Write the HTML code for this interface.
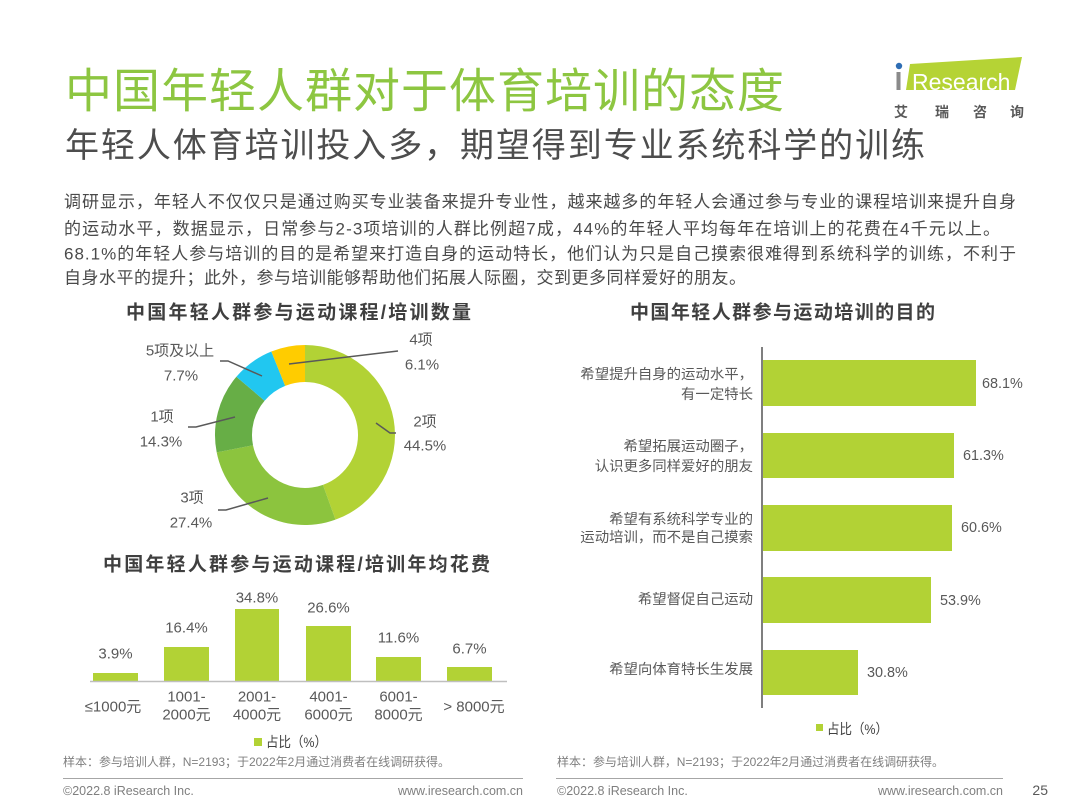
<!DOCTYPE html>
<html>
<head>
<meta charset="utf-8">
<style>
html,body{margin:0;padding:0;background:#fff;}
body{width:1080px;height:810px;overflow:hidden;position:relative;}
svg{position:absolute;left:0;top:0;}
text{font-family:"Liberation Sans","Noto Sans CJK SC",sans-serif;}
</style>
</head>
<body>
<svg width="1080" height="810" viewBox="0 0 1080 810" xmlns="http://www.w3.org/2000/svg">
  <!-- Titles -->
  <text x="65" y="91" font-size="47" fill="#8dc641" dominant-baseline="central" textLength="719" lengthAdjust="spacing">中国年轻人群对于体育培训的态度</text>
  <text x="65" y="146" font-size="34" fill="#4d4d4d" dominant-baseline="central" textLength="860" lengthAdjust="spacing">年轻人体育培训投入多，期望得到专业系统科学的训练</text>

  <!-- Logo -->
  <polygon points="910,64 1022,57 1015,90 906,90" fill="#b5d335"/>
  <circle cx="899" cy="66" r="3.2" fill="#2e6db4"/>
  <rect x="896.5" y="72" width="4" height="18" fill="#8a8a8a"/>
  <text x="912" y="82" font-size="23" fill="#ffffff" dominant-baseline="central">Research</text>
  <g font-size="14" font-weight="bold" fill="#595959" text-anchor="middle">
    <text x="901" y="112" dominant-baseline="central">艾</text>
    <text x="942" y="112" dominant-baseline="central">瑞</text>
    <text x="980" y="112" dominant-baseline="central">咨</text>
    <text x="1017" y="112" dominant-baseline="central">询</text>
  </g>

  <!-- Body text -->
  <g font-size="17" fill="#4a4a4a">
    <text x="64" y="202" dominant-baseline="central" textLength="952" lengthAdjust="spacing">调研显示，年轻人不仅仅只是通过购买专业装备来提升专业性，越来越多的年轻人会通过参与专业的课程培训来提升自身</text>
    <text x="64" y="229" dominant-baseline="central" textLength="936" lengthAdjust="spacing">的运动水平，数据显示，日常参与2-3项培训的人群比例超7成，44%的年轻人平均每年在培训上的花费在4千元以上。</text>
    <text x="64" y="254" dominant-baseline="central" textLength="952" lengthAdjust="spacing">68.1%的年轻人参与培训的目的是希望来打造自身的运动特长，他们认为只是自己摸索很难得到系统科学的训练，不利于</text>
    <text x="64" y="278" dominant-baseline="central" textLength="682" lengthAdjust="spacing">自身水平的提升；此外，参与培训能够帮助他们拓展人际圈，交到更多同样爱好的朋友。</text>
  </g>

  <!-- Chart titles -->
  <g font-size="19" font-weight="bold" fill="#3f3f3f">
    <text x="126" y="313" dominant-baseline="central" textLength="345" lengthAdjust="spacing">中国年轻人群参与运动课程/培训数量</text>
    <text x="103" y="565" dominant-baseline="central" textLength="387" lengthAdjust="spacing">中国年轻人群参与运动课程/培训年均花费</text>
    <text x="630" y="313" dominant-baseline="central" textLength="305" lengthAdjust="spacing">中国年轻人群参与运动培训的目的</text>
  </g>

  <!-- Donut -->
  <path d="M305,345 A90,90 0 0 1 335.48,519.68 L322.95,484.87 A53,53 0 0 0 305,382 Z" fill="#b2d235"/>
  <path d="M335.48,519.68 A90,90 0 0 1 216.70,452.42 L253.00,445.26 A53,53 0 0 0 322.95,484.87 Z" fill="#8cc43e"/>
  <path d="M216.70,452.42 A90,90 0 0 1 236.38,376.76 L264.59,400.70 A53,53 0 0 0 253.00,445.26 Z" fill="#67ae46"/>
  <path d="M236.38,376.76 A90,90 0 0 1 271.34,351.53 L285.18,385.85 A53,53 0 0 0 264.59,400.70 Z" fill="#21c7f0"/>
  <path d="M271.34,351.53 A90,90 0 0 1 305,345 L305,382 A53,53 0 0 0 285.18,385.85 Z" fill="#ffcc00"/>

  <!-- leader lines -->
  <g stroke="#595959" stroke-width="1.5" fill="none">
    <polyline points="289,364 398,351"/>
    <polyline points="220,361 228,361 262,376"/>
    <polyline points="188,427 196,427 235,417"/>
    <polyline points="376,423 390,433 396,433"/>
    <polyline points="218,510 226,510 268,498"/>
  </g>
  <g font-size="15" fill="#595959" text-anchor="middle">
    <text x="421" y="340" dominant-baseline="central">4项</text>
    <text x="422" y="365" dominant-baseline="central">6.1%</text>
    <text x="180" y="351" dominant-baseline="central">5项及以上</text>
    <text x="181" y="376" dominant-baseline="central">7.7%</text>
    <text x="162" y="417" dominant-baseline="central">1项</text>
    <text x="161" y="442" dominant-baseline="central">14.3%</text>
    <text x="425" y="422" dominant-baseline="central">2项</text>
    <text x="425" y="446" dominant-baseline="central">44.5%</text>
    <text x="192" y="498" dominant-baseline="central">3项</text>
    <text x="191" y="523" dominant-baseline="central">27.4%</text>
  </g>

  <!-- Bar chart 1 -->
  <g fill="#b2d235">
    <rect x="93" y="673" width="45" height="8"/>
    <rect x="164" y="647" width="45" height="34"/>
    <rect x="235" y="609" width="44" height="72"/>
    <rect x="306" y="626" width="45" height="55"/>
    <rect x="376" y="657" width="45" height="24"/>
    <rect x="447" y="667" width="45" height="14"/>
  </g>
  <line x1="90" y1="681.5" x2="507" y2="681.5" stroke="#bfbfbf" stroke-width="1.5"/>
  <g font-size="15" fill="#595959" text-anchor="middle">
    <text x="115.5" y="654" dominant-baseline="central">3.9%</text>
    <text x="186.5" y="628" dominant-baseline="central">16.4%</text>
    <text x="257" y="598" dominant-baseline="central">34.8%</text>
    <text x="328.5" y="608" dominant-baseline="central">26.6%</text>
    <text x="398.5" y="638" dominant-baseline="central">11.6%</text>
    <text x="469.5" y="649" dominant-baseline="central">6.7%</text>

    <text x="113" y="707" dominant-baseline="central">≤1000元</text>
    <text x="186.5" y="697" dominant-baseline="central">1001-</text>
    <text x="186.5" y="715" dominant-baseline="central">2000元</text>
    <text x="257" y="697" dominant-baseline="central">2001-</text>
    <text x="257" y="715" dominant-baseline="central">4000元</text>
    <text x="328.5" y="697" dominant-baseline="central">4001-</text>
    <text x="328.5" y="715" dominant-baseline="central">6000元</text>
    <text x="398.5" y="697" dominant-baseline="central">6001-</text>
    <text x="398.5" y="715" dominant-baseline="central">8000元</text>
    <text x="474" y="707" dominant-baseline="central">&gt; 8000元</text>
  </g>
  <rect x="254" y="738" width="8" height="8" fill="#b2d235"/>
  <text x="266" y="742" font-size="14" fill="#404040" dominant-baseline="central" textLength="61" lengthAdjust="spacingAndGlyphs">占比（%）</text>

  <!-- Bar chart 2 -->
  <g fill="#b2d235">
    <rect x="763" y="360" width="213" height="46"/>
    <rect x="763" y="433" width="191" height="45"/>
    <rect x="763" y="505" width="189" height="46"/>
    <rect x="763" y="577" width="168" height="46"/>
    <rect x="763" y="650" width="95" height="45"/>
  </g>
  <line x1="762" y1="347" x2="762" y2="708" stroke="#7f7f7f" stroke-width="2"/>
  <g font-size="14.4" fill="#595959">
    <text x="982" y="384" dominant-baseline="central">68.1%</text>
    <text x="963" y="456" dominant-baseline="central">61.3%</text>
    <text x="961" y="528" dominant-baseline="central">60.6%</text>
    <text x="940" y="601" dominant-baseline="central">53.9%</text>
    <text x="867" y="673" dominant-baseline="central">30.8%</text>
  </g>
  <g font-size="14.4" fill="#595959" text-anchor="end">
    <text x="753" y="375" dominant-baseline="central">希望提升自身的运动水平，</text>
    <text x="753" y="395" dominant-baseline="central">有一定特长</text>
    <text x="753" y="447" dominant-baseline="central">希望拓展运动圈子，</text>
    <text x="753" y="467" dominant-baseline="central">认识更多同样爱好的朋友</text>
    <text x="753" y="520" dominant-baseline="central">希望有系统科学专业的</text>
    <text x="753" y="538" dominant-baseline="central">运动培训，而不是自己摸索</text>
    <text x="753" y="600" dominant-baseline="central">希望督促自己运动</text>
    <text x="753" y="670" dominant-baseline="central">希望向体育特长生发展</text>
  </g>
  <rect x="816" y="724" width="7" height="7" fill="#b2d235"/>
  <text x="827" y="729" font-size="14" fill="#404040" dominant-baseline="central" textLength="61" lengthAdjust="spacingAndGlyphs">占比（%）</text>

  <!-- Footnotes -->
  <g font-size="12" fill="#7f7f7f">
    <text x="63" y="762" dominant-baseline="central" textLength="387" lengthAdjust="spacing">样本：参与培训人群，N=2193；于2022年2月通过消费者在线调研获得。</text>
    <text x="557" y="762" dominant-baseline="central" textLength="387" lengthAdjust="spacing">样本：参与培训人群，N=2193；于2022年2月通过消费者在线调研获得。</text>
  </g>
  <line x1="63" y1="778.5" x2="523" y2="778.5" stroke="#a6a6a6" stroke-width="1"/>
  <line x1="556" y1="778.5" x2="1003" y2="778.5" stroke="#a6a6a6" stroke-width="1"/>
  <g font-size="12.5" fill="#7f7f7f">
    <text x="63" y="791" dominant-baseline="central">©2022.8 iResearch Inc.</text>
    <text x="523" y="791" dominant-baseline="central" text-anchor="end">www.iresearch.com.cn</text>
    <text x="557" y="791" dominant-baseline="central">©2022.8 iResearch Inc.</text>
    <text x="1003" y="791" dominant-baseline="central" text-anchor="end">www.iresearch.com.cn</text>
  </g>
  <text x="1048" y="790" font-size="14" fill="#595959" dominant-baseline="central" text-anchor="end">25</text>
</svg>
</body>
</html>
